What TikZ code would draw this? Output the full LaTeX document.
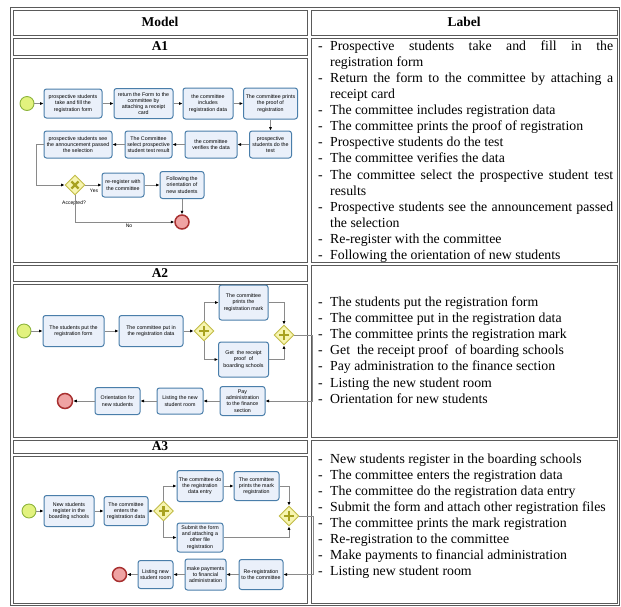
\documentclass[tikz,border=0pt]{standalone}
\usepackage{fontspec}
\setmainfont{Liberation Serif}
\newfontfamily\bpmnfont{Liberation Sans}
\usetikzlibrary{arrows.meta,shapes.geometric}

\definecolor{taskfill}{HTML}{EAF0FA}
\definecolor{taskdraw}{HTML}{4A7EAA}
\definecolor{startfill}{HTML}{E2F27E}
\definecolor{startdraw}{HTML}{8DB43C}
\definecolor{endfill}{HTML}{EFA3A3}
\definecolor{enddraw}{HTML}{A83030}
\definecolor{gwfill}{HTML}{F7F5B0}
\definecolor{gwdraw}{HTML}{C2BC48}
\definecolor{gwmark}{HTML}{A8A220}
\definecolor{flow}{HTML}{8A8A8A}
\definecolor{rulec}{HTML}{5A5A5A}

\newcommand\litem[1]{\par\hangindent=12pt\hangafter=1\noindent\makebox[12pt][l]{-}#1}

\begin{document}
\begin{tikzpicture}[x=1pt,y=-1pt,
 task/.style={draw=taskdraw, fill=taskfill, line width=1pt, rounded corners=2.5pt, align=center, inner sep=0.5pt, font=\bpmnfont\fontsize{5.3}{6.2}\selectfont},
 startev/.style={circle, draw=startdraw, fill=startfill, line width=0.9pt, minimum size=14pt, inner sep=0pt},
 endev/.style={circle, draw=enddraw, fill=endfill, line width=1.5pt, minimum size=14pt, inner sep=0pt},
 gateway/.style={diamond, draw=gwdraw, fill=gwfill, line width=0.9pt, minimum width=20pt, minimum height=20pt, inner sep=0pt, aspect=1},
 gwplus/.style={gateway, path picture={
   \draw[gwmark, line width=2.4pt] ([xshift=-5pt]path picture bounding box.center) -- ([xshift=5pt]path picture bounding box.center);
   \draw[gwmark, line width=2.4pt] ([yshift=-5pt]path picture bounding box.center) -- ([yshift=5pt]path picture bounding box.center);}},
 gwx/.style={gateway, path picture={
   \draw[gwmark, line width=2.2pt] ([shift={(-3.6pt,-3.6pt)}]path picture bounding box.center) -- ([shift={(3.6pt,3.6pt)}]path picture bounding box.center);
   \draw[gwmark, line width=2.2pt] ([shift={(-3.6pt,3.6pt)}]path picture bounding box.center) -- ([shift={(3.6pt,-3.6pt)}]path picture bounding box.center);}},
 flowline/.style={draw=flow, line width=0.9pt, -{Latex[length=3.5pt,width=3.2pt,color=black]}},
 flowlab/.style={font=\bpmnfont\fontsize{5}{6}\selectfont, inner sep=0pt},
 cell/.style={draw=rulec, line width=1pt},
 head/.style={font=\bfseries\fontsize{13.5}{14}\selectfont, inner sep=0pt},
 labelblock/.style={anchor=north west, inner sep=0pt}
]
\useasboundingbox (0,0) rectangle (621,606);

% ---------- table ----------
\draw[cell] (10.5,7.5) rectangle (619.5,605.5);
\draw[cell] (13,10) rectangle (307,35);
\draw[cell] (311,10) rectangle (617,35);
\draw[cell] (13,38) rectangle (307,55);
\draw[cell] (13,58) rectangle (307,262);
\draw[cell] (311,38) rectangle (617,262);
\draw[cell] (13,265) rectangle (307,281);
\draw[cell] (13,284) rectangle (307,437);
\draw[cell] (311,265) rectangle (617,437);
\draw[cell] (13,440) rectangle (307,453);
\draw[cell] (13,456) rectangle (307,603);
\draw[cell] (311,440) rectangle (617,603);

\node[head] (hmodel) at (160,22) {Model};
\node[head] (hlabel) at (464,22) {Label};
\node[head] (ha1) at (160,46.5) {A1};
\node[head] (ha2) at (160,273) {A2};
\node[head] (ha3) at (160,446.5) {A3};

% ---------- label texts ----------
\node[labelblock] (lab1) at (318,40.3) {\begin{minipage}[t]{295pt}\fontsize{13.8}{16.1}\selectfont
\litem{Prospective students take and fill in the\linebreak registration form}
\litem{Return the form to the committee by attaching a\linebreak receipt card}
\litem{The committee includes registration data}
\litem{The committee prints the proof of registration}
\litem{Prospective students do the test}
\litem{The committee verifies the data}
\litem{The committee select the prospective student test\linebreak results}
\litem{Prospective students see the announcement passed\linebreak the selection}
\litem{Re-register with the committee}
\litem{Following the orientation of new students}
\end{minipage}};

\node[labelblock] (lab2) at (318,296.1) {\begin{minipage}[t]{295pt}\fontsize{13.8}{16.2}\selectfont
\litem{The students put the registration form}
\litem{The committee put in the registration data}
\litem{The committee prints the registration mark}
\litem{Get~ the receipt proof~ of boarding schools}
\litem{Pay administration to the finance section}
\litem{Listing the new student room}
\litem{Orientation for new students}
\end{minipage}};

\node[labelblock] (lab3) at (318,454.1) {\begin{minipage}[t]{295pt}\fontsize{13.8}{16}\selectfont
\litem{New students register in the boarding schools}
\litem{The committee enters the registration data}
\litem{The committee do the registration data entry}
\litem{Submit the form and attach other registration files}
\litem{The committee prints the mark registration}
\litem{Re-registration to the committee}
\litem{Make payments to financial administration}
\litem{Listing new student room}
\end{minipage}};

% ---------- A1 model ----------
\node[startev] (s1) at (27,103.5) {};
\node[task, minimum width=58pt, minimum height=29pt] (a1t1) at (73,103.5) {prospective students\\take and fill the\\registration form};
\node[task, minimum width=59pt, minimum height=30pt] (a1t2) at (143.5,103.5) {return the Form to the\\committee by\\attaching a receipt\\card};
\node[task, minimum width=50pt, minimum height=31pt] (a1t3) at (208,103.5) {the committee\\includes\\registration data};
\node[task, minimum width=54pt, minimum height=31pt] (a1t4) at (270.5,103.5) {The committee prints\\the proof of\\registration};
\node[task, minimum width=42pt, minimum height=27pt] (a1t5) at (270.5,144.5) {prospective\\students do the\\test};
\node[task, minimum width=52pt, minimum height=27pt] (a1t6) at (211,144.5) {the committee\\verifies the data};
\node[task, minimum width=47pt, minimum height=27pt] (a1t7) at (148.5,144.5) {The Committee\\select prospective\\student test result};
\node[task, minimum width=68pt, minimum height=27pt] (a1t8) at (78,144.5) {prospective students see\\the announcement passed\\the selection};
\node[gwx] (g1) at (75,185) {};
\node[task, minimum width=42pt, minimum height=24pt] (a1t9) at (123,185) {re-register with\\the committee};
\node[task, minimum width=44pt, minimum height=27pt] (a1t10) at (182,185) {Following the\\orientation of\\new students};
\node[endev] (e1) at (182,222) {};
\node[flowlab] (lyes) at (94,191) {Yes};
\node[flowlab] (lacc) at (74,203.5) {Accepted?};
\node[flowlab] (lno) at (129,226) {No};

\draw[flowline] (s1) -- (a1t1);
\draw[flowline] (a1t1) -- (a1t2);
\draw[flowline] (a1t2) -- (a1t3);
\draw[flowline] (a1t3) -- (a1t4);
\draw[flowline] (a1t4) -- (a1t5);
\draw[flowline] (a1t5) -- (a1t6);
\draw[flowline] (a1t6) -- (a1t7);
\draw[flowline] (a1t7) -- (a1t8);
\draw[flowline] (a1t8.west) -- ++(-7,0) |- (g1.west);
\draw[flowline] (g1) -- (a1t9);
\draw[flowline] (a1t9) -- (a1t10);
\draw[flowline] (a1t10) -- (e1);
\draw[flowline] (g1.south) |- (e1.west);

% ---------- A2 model ----------
\node[startev] (s2) at (24,331) {};
\node[task, minimum width=61pt, minimum height=31pt] (a2t1) at (73.5,331) {The students put the\\registration form};
\node[task, minimum width=64pt, minimum height=31pt] (a2t2) at (151,331) {The committee put in\\the registration data};
\node[gwplus] (ag1) at (204,331) {};
\node[task, minimum width=49pt, minimum height=35pt] (a2t3) at (243.5,302.5) {The committee\\prints the\\registration mark};
\node[task, minimum width=50pt, minimum height=35pt] (a2t4) at (243.5,359.5) {Get~ the receipt\\proof~ of\\boarding schools};
\node[gwplus] (ag2) at (284,335) {};
\node[task, minimum width=45pt, minimum height=29pt] (a2t5) at (242.5,401) {Pay\\administration\\to the finance\\section};
\node[task, minimum width=46pt, minimum height=26pt] (a2t6) at (180,401) {Listing the new\\student room};
\node[task, minimum width=45pt, minimum height=27pt] (a2t7) at (117.5,401) {Orientation for\\new students};
\node[endev, minimum size=15pt] (e2) at (65,401) {};

\draw[flowline] (s2) -- (a2t1);
\draw[flowline] (a2t1) -- (a2t2);
\draw[flowline] (a2t2) -- (ag1);
\draw[flowline] (ag1.north) |- (a2t3.west);
\draw[flowline] (ag1.south) |- (a2t4.west);
\draw[flowline] (a2t3.east) -| (ag2.north);
\draw[flowline] (a2t4.east) -| (ag2.south);
\draw[flowline] (ag2.east) -- ++(18,0) |- (a2t5.east);
\draw[flowline] (a2t5) -- (a2t6);
\draw[flowline] (a2t6) -- (a2t7);
\draw[flowline] (a2t7) -- (e2);

% ---------- A3 model ----------
\node[startev] (s3) at (29,511) {};
\node[task, minimum width=50pt, minimum height=31pt] (a3t1) at (69,511) {New students\\register in the\\boarding schools};
\node[task, minimum width=44pt, minimum height=29pt] (a3t2) at (126,511) {The committee\\enters the\\registration data};
\node[gwplus] (bg1) at (163.5,511) {};
\node[task, minimum width=46pt, minimum height=31pt] (a3t3) at (200,486) {The committee do\\the registration\\data entry};
\node[task, minimum width=45pt, minimum height=29pt] (a3t4) at (256.5,486) {The committee\\prints the mark\\registration};
\node[task, minimum width=46pt, minimum height=29pt] (a3t5) at (200,537.5) {Submit the form\\and attaching a\\other file\\registration};
\node[gwplus] (bg2) at (289,516) {};
\node[task, minimum width=44pt, minimum height=30pt] (a3t6) at (261,574.5) {Re-registration\\to the committee};
\node[task, minimum width=41pt, minimum height=31pt] (a3t7) at (205.5,574.5) {make payments\\to financial\\administration};
\node[task, minimum width=35pt, minimum height=28pt] (a3t8) at (155.5,574.5) {Listing new\\student room};
\node[endev] (e3) at (119.5,574.5) {};

\draw[flowline] (s3) -- (a3t1);
\draw[flowline] (a3t1) -- (a3t2);
\draw[flowline] (a3t2) -- (bg1);
\draw[flowline] (bg1.north) |- (a3t3.west);
\draw[flowline] (bg1.south) |- (a3t5.west);
\draw[flowline] (a3t3) -- (a3t4);
\draw[flowline] (a3t4.east) -| (bg2.north);
\draw[flowline] (a3t5.east) -| (bg2.south);
\draw[flowline] (bg2.east) -- ++(14,0) |- (a3t6.east);
\draw[flowline] (a3t6) -- (a3t7);
\draw[flowline] (a3t7) -- (a3t8);
\draw[flowline] (a3t8) -- (e3);
\end{tikzpicture}
\end{document}
